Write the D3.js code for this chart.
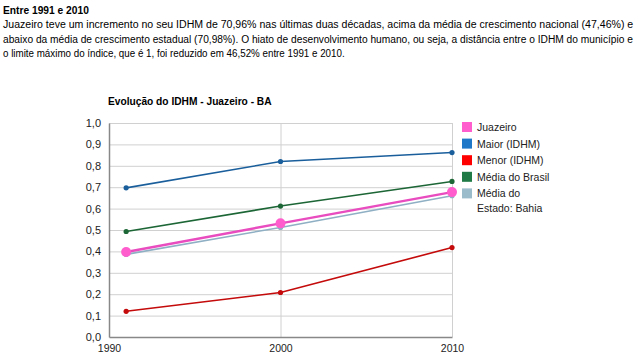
<!DOCTYPE html>
<html>
<head>
<meta charset="utf-8">
<script src="https://cdn.jsdelivr.net/npm/d3@7"></script>
<style>
  body { margin: 0; background: #fff; font-family: "Liberation Sans", Arial, sans-serif; }
</style>
</head>
<body>
<div id="grafico"></div>
<script>
const WIDTH  = 640;
const HEIGHT = 359;
const PLOT   = { left: 109, right: 452, top: 123, bottom: 337 };

const titulo    = 'Entre 1991 e 2010';
const paragrafo = [
  'Juazeiro teve um incremento no seu IDHM de 70,96% nas últimas duas décadas, acima da média de crescimento nacional (47,46%) e',
  'abaixo da média de crescimento estadual (70,98%). O hiato de desenvolvimento humano, ou seja, a distância entre o IDHM do município e',
  'o limite máximo do índice, que é 1, foi reduzido em 46,52% entre 1991 e 2010.'
];
const anos      = [1991, 2000, 2010];
const juazeiro  = [0.397, 0.531, 0.677];
const maior     = [0.697, 0.820, 0.862];
const menor     = [0.120, 0.208, 0.418];
const brasil    = [0.493, 0.612, 0.727];
const bahia     = [0.386, 0.512, 0.660];
const xTicks    = [1990, 2000, 2010];
const yTicks    = [0, 0.1, 0.2, 0.3, 0.4, 0.5, 0.6, 0.7, 0.8, 0.9, 1.0];
const legendas  = ['Juazeiro', 'Maior (IDHM)', 'Menor (IDHM)', 'Média do Brasil', 'Média do\nEstado: Bahia'];

const series = [
  { nome: legendas[1], valores: maior,    linha: '#1a5f9c', cor: '#1f78c8', w: 1.6, r: 2.6 },
  { nome: legendas[2], valores: menor,    linha: '#c40a0a', cor: '#ff0000', w: 1.6, r: 2.6 },
  { nome: legendas[3], valores: brasil,   linha: '#1c6636', cor: '#1f7a45', w: 1.6, r: 2.6 },
  { nome: legendas[4], valores: bahia,    linha: '#8fb0c4', cor: '#9bbccb', w: 1.6, r: 2.6 },
  { nome: legendas[0], valores: juazeiro, linha: '#e84cbf', cor: '#ff5ccd', w: 2.4, r: 5 }
];

const svg = d3.select('#grafico').append('svg')
  .attr('width', WIDTH)
  .attr('height', HEIGHT);

// header text, squeezed horizontally to the widths of the original
function linhaAjustada(txt, yPos, largura, negrito) {
  const t = svg.append('text')
    .style('font-size', '11.5px')
    .style('font-weight', negrito ? 'bold' : 'normal')
    .text(txt);
  const natural = t.node().getComputedTextLength();
  t.attr('transform', 'translate(3,' + yPos + ') scale(' + (largura / natural) + ',1)');
}
linhaAjustada(titulo, 14, 86, true);
const larguras = [631, 631, 342];
paragrafo.forEach((l, i) => linhaAjustada(l, 28 + i * 14.5, larguras[i], false));

const x = d3.scaleLinear().domain([1990, 2010]).range([PLOT.left, PLOT.right]);
const y = d3.scaleLinear().domain([0, 1]).range([PLOT.bottom, PLOT.top]);

// chart title
svg.append('text')
  .attr('x', 108).attr('y', 105)
  .style('font-size', '10.2px').style('font-weight', 'bold')
  .text('Evolução do IDHM - Juazeiro - BA');

// grid
svg.append('g')
  .attr('transform', 'translate(0,' + PLOT.bottom + ')')
  .call(d3.axisBottom(x).tickValues(xTicks.slice(1)).tickSize(-(PLOT.bottom - PLOT.top)).tickFormat(''))
  .call(g => g.select('.domain').remove())
  .call(g => g.selectAll('line').attr('stroke', '#d0d0d0'));
svg.append('g')
  .attr('transform', 'translate(' + PLOT.left + ',0)')
  .call(d3.axisLeft(y).tickValues(yTicks.slice(1)).tickSize(-(PLOT.right - PLOT.left)).tickFormat(''))
  .call(g => g.select('.domain').remove())
  .call(g => g.selectAll('line').attr('stroke', '#d0d0d0'));

// axes
const fmt = d3.format('.1f');
svg.append('g')
  .attr('transform', 'translate(' + PLOT.left + ',0)')
  .call(d3.axisLeft(y).tickValues(yTicks).tickSize(0).tickPadding(8).tickFormat(d => fmt(d).replace('.', ',')))
  .call(g => g.select('.domain').attr('stroke', '#888').attr('stroke-width', 1.5))
  .call(g => g.selectAll('text').style('font-size', '11px').style('font-family', 'Liberation Sans, Arial').attr('fill', '#222'));
svg.append('g')
  .attr('transform', 'translate(0,' + PLOT.bottom + ')')
  .call(d3.axisBottom(x).tickValues(xTicks).tickSize(0).tickPadding(8).tickFormat(d3.format('d')))
  .call(g => g.select('.domain').attr('stroke', '#888').attr('stroke-width', 1.5))
  .call(g => g.selectAll('text').style('font-size', '10.5px').style('font-family', 'Liberation Sans, Arial').attr('fill', '#222'));

// lines
const line = d3.line().x((d, i) => x(anos[i])).y(d => y(d));
series.forEach(s => {
  svg.append('path')
    .datum(s.valores)
    .attr('fill', 'none')
    .attr('stroke', s.linha)
    .attr('stroke-width', s.w)
    .attr('d', line);
  svg.selectAll(null)
    .data(s.valores)
    .enter().append('circle')
    .attr('cx', (d, i) => x(anos[i]))
    .attr('cy', d => y(d))
    .attr('r', s.r)
    .attr('fill', s.r > 3 ? s.cor : s.linha);
});

// legend
const ordem = [series[4], series[0], series[1], series[2], series[3]];
const leg = svg.append('g').attr('transform', 'translate(462,122)');
ordem.forEach((s, i) => {
  const g = leg.append('g').attr('transform', 'translate(0,' + (i * 16.6) + ')');
  g.append('rect').attr('width', 10).attr('height', 10).attr('fill', s.cor);
  const t = g.append('text').attr('x', 15).attr('y', 9)
    .style('font-size', '10.5px').attr('fill', '#222');
  s.nome.split('\n').forEach((l, j) => {
    t.append('tspan').attr('x', 15).attr('dy', j ? 15 : 0).text(l);
  });
});
</script>
</body>
</html>
